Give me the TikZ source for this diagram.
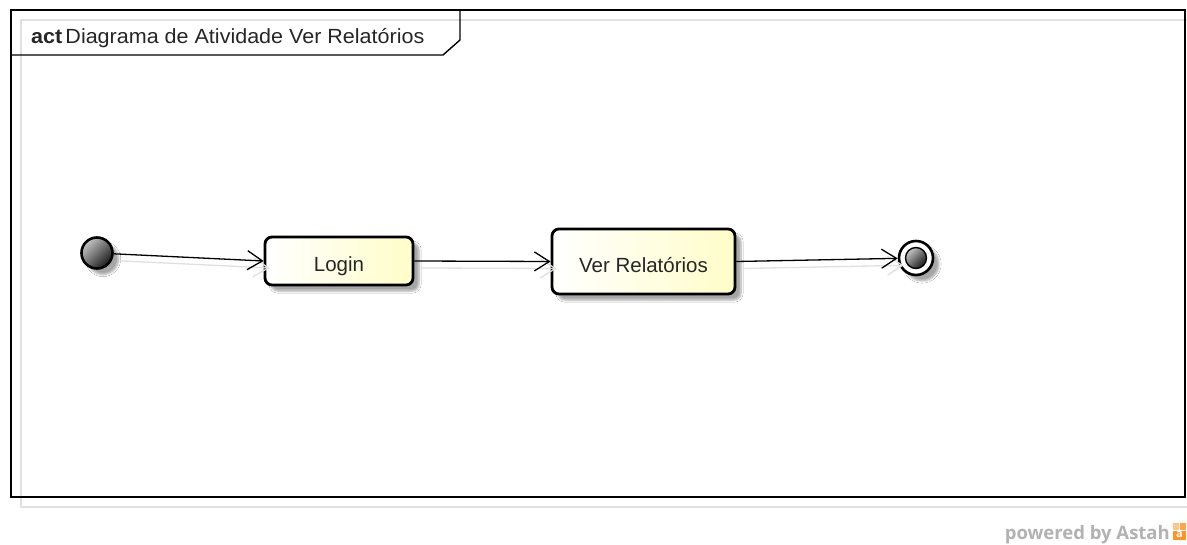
\documentclass[tikz,border=0pt]{standalone}
\usepackage{fontspec}
\setmainfont{Liberation Sans}
\newfontfamily\brandfont{Open Sans}
\usetikzlibrary{arrows.meta,shadows.blur}
\begin{document}
\begin{tikzpicture}[x=1pt,y=-1pt,
  nodetext/.style={font=\fontsize{20.5}{24}\selectfont, text=black!85},
  actionbox/.style={draw=black, line width=2.8pt, rounded corners=7pt,
    shading=axis, left color=white, right color={rgb,255:red,255;green,253;blue,200},
    blur shadow={shadow xshift=6pt, shadow yshift=-6pt, shadow blur steps=6, shadow opacity=35},
    nodetext, inner sep=0pt, text height=22pt, text depth=0pt},
  startdot/.style={circle, draw=black, line width=2.6pt, minimum size=31pt, inner sep=0pt,
    shading=axis, top color=gray!45, bottom color=black!90, shading angle=45,
    blur shadow={shadow xshift=6pt, shadow yshift=-6pt, shadow blur steps=6, shadow opacity=35}},
  endring/.style={circle, draw=black, line width=2.6pt, minimum size=34pt, inner sep=0pt, fill=white,
    blur shadow={shadow xshift=6pt, shadow yshift=-6pt, shadow blur steps=6, shadow opacity=35}},
  enddot/.style={circle, draw=black, line width=1.4pt, minimum size=21pt, inner sep=0pt,
    shading=axis, top color=gray!45, bottom color=black!90, shading angle=45},
  flow/.style={draw=black, line width=1.3pt, -{Straight Barb[length=15pt,width=19pt,line width=1.3pt]}},
  flowshadow/.style={draw=black!12, line width=1.3pt, -{Straight Barb[length=15pt,width=19pt,line width=1.3pt]},
    transform canvas={shift={(6pt,-7pt)}}}
]
\useasboundingbox (0,0) rectangle (1187,545);
\fill[white] (0,0) rectangle (1187,545);

% frame shadow and frame
\draw[black!12, line width=1.2pt] (21,20) rectangle (1200,507);
\draw[black, line width=1.4pt] (11,10) rectangle (1185,497);
\draw[black, line width=1.4pt] (11,55) -- (443,55) -- (460,40) -- (460,10);
\node[anchor=base west, inner sep=0pt, nodetext] (title) at (31,44)
  {\scalebox{1.05}[1]{\textbf{act}\hspace{3pt}Diagrama de Atividade Ver Relatórios}};

% activity nodes
\node[startdot] (init) at (97,253) {};
\node[actionbox, minimum width=148pt, minimum height=48pt] (login) at (339,261) {Login};
\node[actionbox, minimum width=183pt, minimum height=65pt] (ver) at (643.5,261.5) {Ver Relatórios};
\node[endring] (fin) at (916,258) {};
\node[enddot] (findot) at (fin.center) {};

% flows (with faint shadows)
\draw[flowshadow] (init) -- (login.west);
\draw[flowshadow] (login.east) -- (ver.west);
\draw[flowshadow] (ver.east) -- (fin);
\draw[flow] (init) -- (login.west);
\draw[flow] (login.east) -- (ver.west);
\draw[flow] (ver.east) -- (fin);

% branding
\node[anchor=base east, inner sep=0pt, text=black!30,
  font=\brandfont\bfseries\fontsize{18.5}{21}\selectfont] (brand) at (1170,539) {powered by Astah};
\fill[orange!45] (1173,523) rectangle (1178.5,529.5);
\fill[orange!70] (1179.5,523) rectangle (1186,529.5);
\fill[orange!85] (1173,530.5) rectangle (1186,540);
\node[text=white, inner sep=0pt, font=\brandfont\bfseries\fontsize{11}{12}\selectfont] (logo) at (1179.5,534.5) {a};
\end{tikzpicture}
\end{document}
